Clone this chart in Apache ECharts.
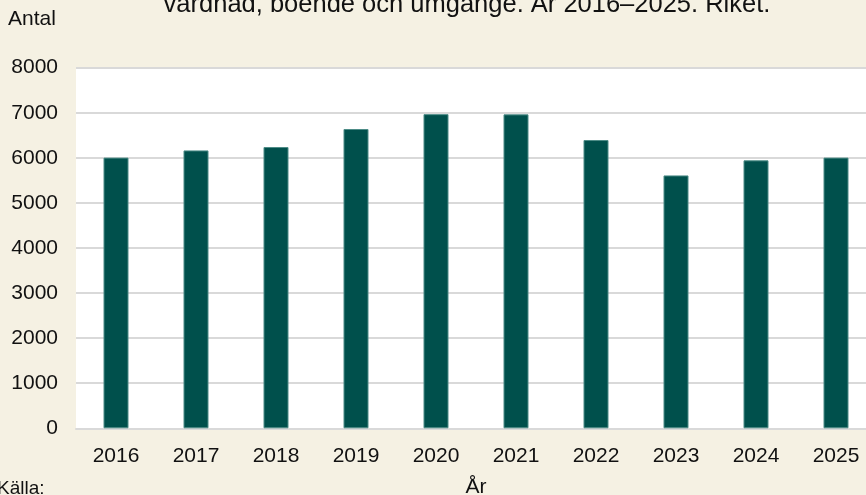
<!DOCTYPE html>
<html>
<head>
<meta charset="utf-8">
<script src="https://cdn.jsdelivr.net/npm/echarts@6/dist/echarts.min.js"></script>
<style>
html,body{margin:0;padding:0;background:#F5F1E3;}
#chart{width:866px;height:495px;}
</style>
</head>
<body>
<div id="chart"></div>
<script>
const years = ['2016','2017','2018','2019','2020','2021','2022','2023','2024','2025'];
const values = [6005, 6165, 6240, 6640, 6970, 6965, 6395, 5610, 5945, 6005];
const yTicks = [0, 1000, 2000, 3000, 4000, 5000, 6000, 7000, 8000];
const titleText = 'vårdnad, boende och umgänge. År 2016–2025. Riket.';
const yName = 'Antal';
const xName = 'År';
const sourceText = 'Källa:';

const font = 'Liberation Sans, Arial, sans-serif';
const chart = echarts.init(document.getElementById('chart'), null, {renderer:'canvas'});
chart.setOption({
  backgroundColor: '#F5F1E3',
  animation: false,
  title: {
    text: titleText,
    left: 462, textAlign: 'center',
    top: -13,
    textStyle: {fontFamily: font, fontSize: 25.5, fontWeight: 'normal', color: '#111'}
  },
  grid: {
    left: 76, width: 800, top: 67.7, height: 360.6,
    outerBoundsMode: 'none',
    containLabel: false,
    show: true, backgroundColor: '#ffffff', borderWidth: 0
  },
  xAxis: {
    type: 'category',
    data: years,
    name: xName,
    nameLocation: 'middle',
    nameGap: 48,
    nameTextStyle: {fontFamily: font, fontSize: 21, color: '#111'},
    axisLine: {show: true, lineStyle: {color: '#d9d9d9', width: 2}},
    axisTick: {show: false},
    axisLabel: {fontFamily: font, fontSize: 21, color: '#111', margin: 17}
  },
  yAxis: {
    type: 'value',
    min: yTicks[0], max: yTicks[yTicks.length-1], interval: 1000,
    axisLine: {show: false},
    axisTick: {show: false},
    splitLine: {lineStyle: {color: '#d9d9d9', width: 2}},
    axisLabel: {fontFamily: font, fontSize: 21, color: '#111', margin: 18,
      formatter: function (v) { return String(v); }}
  },
  graphic: [
    {type: 'text', left: 8, top: 9, style: {text: yName, font: '21px ' + font, fill: '#111'}},
    {type: 'text', left: -3, top: 479, style: {text: sourceText, font: '19px ' + font, fill: '#111'}}
  ],
  series: [{
    type: 'bar',
    data: values,
    barWidth: 25,
    itemStyle: {color: '#00504C', borderColor: '#4d8c87', borderWidth: 1}
  }]
});
</script>
</body>
</html>
